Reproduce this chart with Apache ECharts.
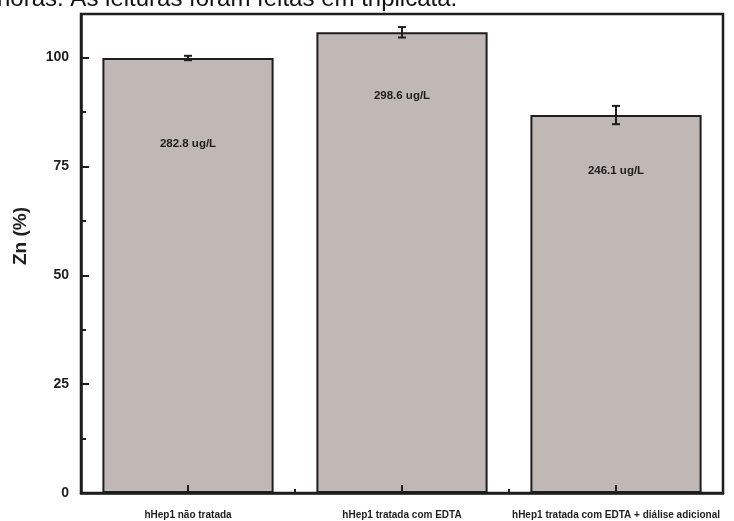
<!DOCTYPE html>
<html>
<head>
<meta charset="utf-8">
<script src="https://cdn.jsdelivr.net/npm/echarts@6/dist/echarts.min.js"></script>
<style>
  html, body { margin: 0; padding: 0; background: #fff; }
  #chart { width: 734px; height: 521px; }
</style>
</head>
<body>
<div id="chart"></div>
<script>
// Zn content relative to untreated hHep1 (mean ± error, triplicate readings)
const categories = [
  'hHep1 não tratada',
  'hHep1 tratada com EDTA',
  'hHep1 tratada com EDTA + diálise adicional'
];
const znPercent = [99.9, 105.8, 86.8];
const znError = [0.5, 1.2, 2.1];
const concLabels = ['282.8 ug/L', '298.6 ug/L', '246.1 ug/L'];
const yTicks = [0, 25, 50, 75, 100];

// distance (px) from bar top to its concentration label
const labelGap = [80, 58, 50];

const FONT = 'Liberation Sans, Arial, sans-serif';
const INK = '#1e1e1e';

const chart = echarts.init(document.getElementById('chart'), null, { renderer: 'canvas' });

const gridBox = { left: 81, right: 11, top: 14, bottom: 28 };

const option = {
  animation: false,
  backgroundColor: '#ffffff',
  grid: [
    Object.assign({ show: true, borderColor: INK, borderWidth: 2.5, backgroundColor: 'transparent' }, gridBox),
    Object.assign({ show: false }, gridBox)
  ],
  graphic: [
    {
      type: 'text',
      left: -3,
      top: -13,
      style: {
        text: 'horas. As leituras foram feitas em triplicata.',
        font: '24px ' + FONT,
        fill: '#111'
      }
    },
    {
      type: 'text',
      rotation: Math.PI / 2,
      x: 21,
      y: 236,
      style: {
        text: 'Zn (%)',
        font: 'bold 19px ' + FONT,
        fill: INK,
        align: 'center',
        verticalAlign: 'middle'
      }
    }
  ],
  xAxis: [
    {
      type: 'category',
      gridIndex: 0,
      z: 10,
      data: categories,
      axisLine: { lineStyle: { color: INK, width: 2.5 } },
      axisTick: { show: true, interval: 0, alignWithLabel: true, inside: true, length: 8, lineStyle: { color: INK, width: 2 } },
      axisLabel: {
        interval: 0,
        margin: 17,
        color: INK,
        fontFamily: FONT,
        fontWeight: 'bold',
        fontSize: 10
      }
    },
    {
      type: 'category',
      gridIndex: 1,
      z: 10,
      data: categories,
      axisLine: { show: false },
      axisTick: { show: true, interval: 0, inside: true, length: 4, lineStyle: { color: INK, width: 2 } },
      axisLabel: { show: false }
    }
  ],
  yAxis: [
    {
      type: 'value',
      gridIndex: 0,
      z: 10,
      min: 0,
      max: 110,
      interval: 25,
      splitLine: { show: false },
      axisLine: { show: true, lineStyle: { color: INK, width: 2.5 } },
      axisTick: { show: true, inside: true, length: 8, lineStyle: { color: INK, width: 2 } },
      minorTick: { show: true, splitNumber: 2, length: 5, lineStyle: { color: INK, width: 2 } },
      axisLabel: {
        showMaxLabel: false,
        margin: 12,
        color: INK,
        fontFamily: FONT,
        fontWeight: 'bold',
        fontSize: 14,
        formatter: v => (yTicks.indexOf(v) >= 0 ? String(v) : '')
      }
    },
    {
      type: 'value',
      gridIndex: 1,
      min: 0,
      max: 110,
      show: false
    }
  ],
  series: [
    {
      type: 'bar',
      xAxisIndex: 0,
      yAxisIndex: 0,
      barCategoryGap: '20%',
      itemStyle: { color: '#bfb8b4', borderColor: INK, borderWidth: 2 },
      data: znPercent.map((v, i) => ({
        value: v,
        label: {
          show: true,
          position: 'insideTop',
          distance: labelGap[i],
          formatter: concLabels[i],
          color: INK,
          fontFamily: FONT,
          fontWeight: 'bold',
          fontSize: 11.5
        }
      })),
      z: 2
    },
    {
      type: 'custom',
      xAxisIndex: 0,
      yAxisIndex: 0,
      data: znPercent.map((v, i) => [i, v, znError[i]]),
      renderItem: function (params, api) {
        const i = api.value(0);
        const v = api.value(1);
        const e = api.value(2);
        const hi = api.coord([i, v + e]);
        const lo = api.coord([i, v - e]);
        const cap = 4;
        const style = { stroke: INK, lineWidth: 2 };
        return {
          type: 'group',
          children: [
            { type: 'line', shape: { x1: hi[0], y1: hi[1], x2: lo[0], y2: lo[1] }, style: style },
            { type: 'line', shape: { x1: hi[0] - cap, y1: hi[1], x2: hi[0] + cap, y2: hi[1] }, style: style },
            { type: 'line', shape: { x1: lo[0] - cap, y1: lo[1], x2: lo[0] + cap, y2: lo[1] }, style: style }
          ]
        };
      },
      z: 5
    }
  ]
};

chart.setOption(option);
</script>
</body>
</html>
